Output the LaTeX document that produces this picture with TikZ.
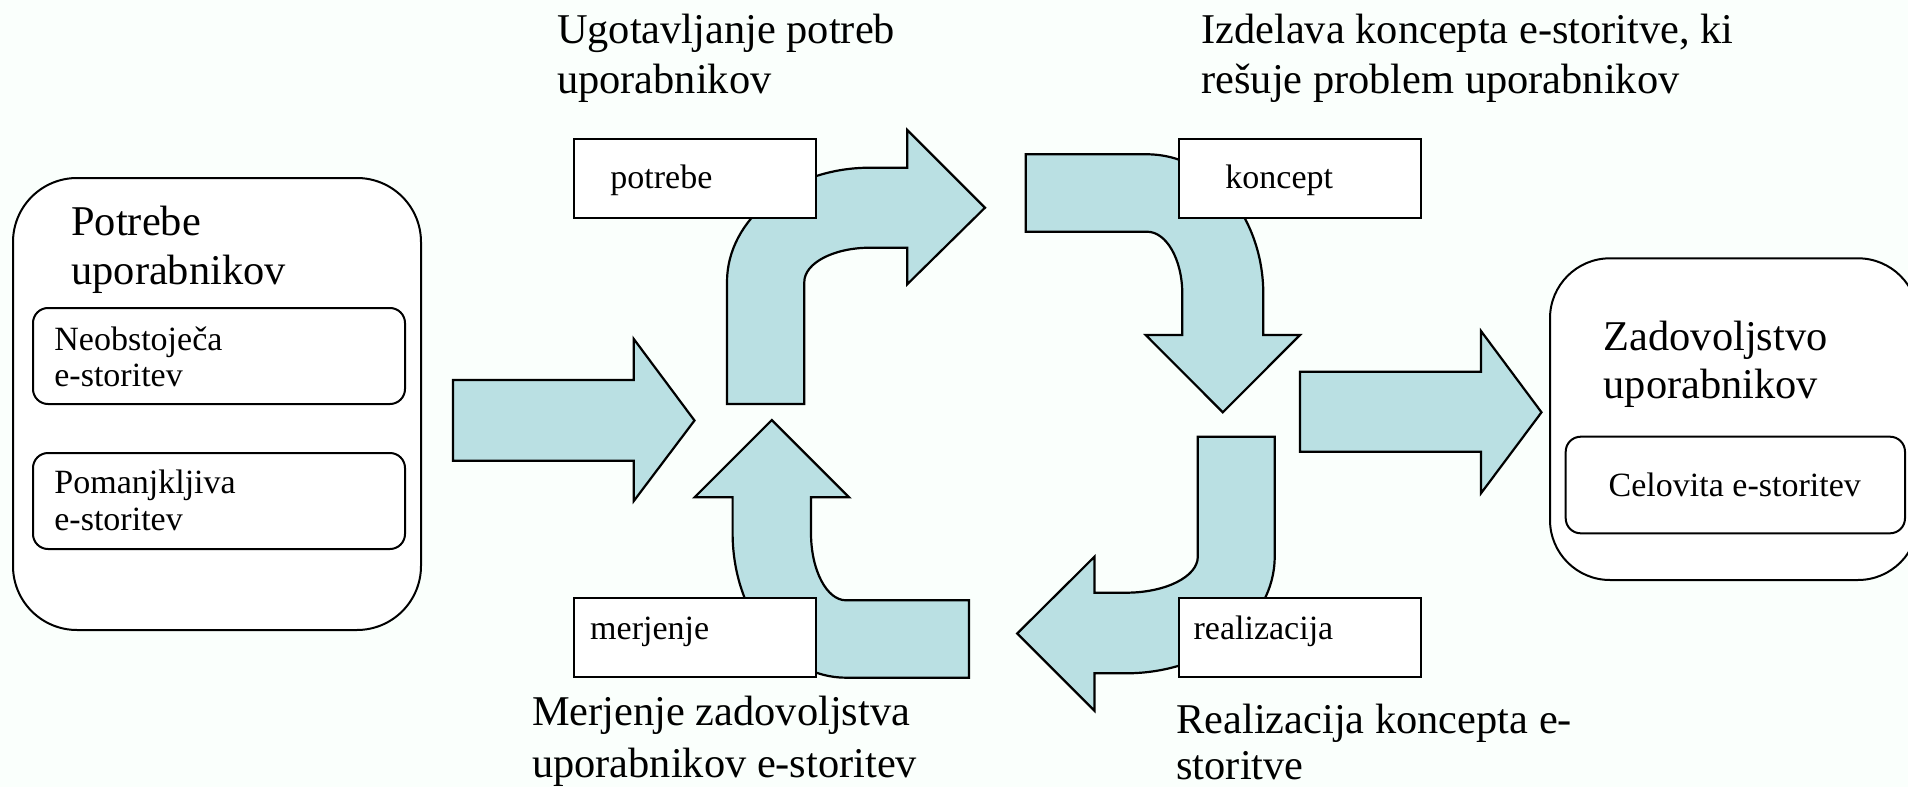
\documentclass[tikz,border=0pt]{standalone}
\usepackage{fontspec}
\setmainfont{Liberation Serif}
\definecolor{bg}{RGB}{250,255,252}
\definecolor{arrowfill}{RGB}{186,224,227}
\begin{document}
\begin{tikzpicture}[x=0.5pt,y=-0.5pt,
  bigtext/.style={font=\fontsize{21.2}{25}\selectfont, anchor=base west, inner sep=0pt},
  smalltext/.style={font=\fontsize{17}{20}\selectfont, anchor=base west, inner sep=0pt},
  container/.style={draw, line width=1pt, fill=white, rounded corners=32pt, anchor=north west, inner sep=0pt, outer sep=0pt},
  subbox/.style={draw, line width=1pt, fill=white, rounded corners=7.5pt, anchor=north west, inner sep=0pt, outer sep=0pt},
  labelbox/.style={draw, line width=1pt, fill=white, anchor=north west, inner sep=0pt, outer sep=0pt, minimum width=121.15pt, minimum height=39.65pt},
  blockarrow/.style={draw, line width=1.1pt, fill=arrowfill, line join=miter}
]
\fill[bg] (0,0) rectangle (1908,787);
\useasboundingbox (0,0) rectangle (1908,787);
\clip (0,0) rectangle (1908,787);

% left container
\node[container, minimum width=204pt, minimum height=226pt] (left) at (13,178) {};
\node[subbox, minimum width=186pt, minimum height=48pt] (neob) at (33,308) {};
\node[subbox, minimum width=186pt, minimum height=48pt] (pom) at (33,453) {};
\node[bigtext] (lt1) at (71,235) {Potrebe};
\node[bigtext] (lt2) at (71,284) {uporabnikov};
\node[smalltext] (n1) at (54,350) {Neobstoječa};
\node[smalltext] (n2) at (54,386) {e-storitev};
\node[smalltext] (p1) at (54,493.5) {Pomanjkljiva};
\node[smalltext] (p2) at (54,530.5) {e-storitev};

% right container (runs past the right edge)
\node[container, rounded corners=30pt, minimum width=184pt, minimum height=160.85pt] (right) at (1550,258.3) {};
\node[subbox, minimum width=169.65pt, minimum height=48.3pt] (celo) at (1565.7,436.7) {};
\node[bigtext] (rt1) at (1603.3,350.7) {Zadovoljstvo};
\node[bigtext] (rt2) at (1603.3,398.3) {uporabnikov};
\node[smalltext] (c1) at (1608.3,496.7) {Celovita e-storitev};

% input arrow
\draw[blockarrow] (453,380) -- (633.8,380) -- (633.8,339) -- (694.5,420.5) -- (633.8,501) -- (633.8,460.7) -- (453,460.7) -- cycle;
% output arrow
\draw[blockarrow] (1300,371.7) -- (1481,371.7) -- (1481,331) -- (1541.5,412.3) -- (1481,493.3) -- (1481,451.7) -- (1300,451.7) -- cycle;

% bent arrow 1 (up, then right)
\draw[blockarrow] (727,404) -- (727,282)
  .. controls (727,218.9) and (791,167.7) .. (870,167.7)
  -- (907.2,167.7) -- (907.2,130) -- (985,207.7) -- (907.2,284.3) -- (907.2,247.7) -- (870,247.7)
  .. controls (833.7,247.7) and (804.3,263.1) .. (804.3,282)
  -- (804.3,404) -- cycle;

% bent arrow 2 (right, then down)
\draw[blockarrow] (1025.7,154.3) -- (1147,154.3)
  .. controls (1211.2,154.3) and (1263.3,216.8) .. (1263.3,294)
  -- (1263.3,335) -- (1300,335) -- (1222.8,412.3) -- (1145.7,335) -- (1182.3,335) -- (1182.3,294)
  .. controls (1182.3,259.6) and (1166.5,231.7) .. (1147,231.7)
  -- (1025.7,231.7) -- cycle;

% bent arrow 3 (down, then left)
\draw[blockarrow] (1197.8,436.7) -- (1274.7,436.7) -- (1274.7,556.7)
  .. controls (1274.7,621.1) and (1208.1,673.3) .. (1126,673.3)
  -- (1094.5,673.3) -- (1094.5,710.7) -- (1017.2,633.5) -- (1094.5,556.7) -- (1094.5,592.7) -- (1126,592.7)
  .. controls (1165.7,592.7) and (1197.8,576.6) .. (1197.8,556.7)
  -- cycle;

% bent arrow 4 (left, then up)
\draw[blockarrow] (969,600.3) -- (969,677.7) -- (846,677.7)
  .. controls (783.4,677.7) and (732.6,612.9) .. (732.6,533)
  -- (732.6,497.3) -- (694.5,497.3) -- (771.8,420) -- (849.1,497.3) -- (811,497.3) -- (811,533)
  .. controls (811,570.2) and (826.7,600.3) .. (846,600.3)
  -- cycle;

% label boxes
\node[labelbox] (potrebe) at (573.5,139) {};
\node[labelbox] (koncept) at (1179,139) {};
\node[labelbox] (merjenje) at (573.5,597.5) {};
\node[labelbox] (realizacija) at (1178.7,597.7) {};
\node[smalltext] (tpotrebe) at (610,188.3) {potrebe};
\node[smalltext] (tkoncept) at (1225,188.3) {koncept};
\node[smalltext] (tmerjenje) at (589.8,639.3) {merjenje};
\node[smalltext] (trealizacija) at (1193.2,639.3) {realizacija};

% headers
\node[bigtext] (h1a) at (556.7,43.3) {Ugotavljanje potreb};
\node[bigtext] (h1b) at (556.7,93.3) {uporabnikov};
\node[bigtext] (h2a) at (1201,43.3) {Izdelava koncepta e-storitve, ki};
\node[bigtext] (h2b) at (1201,93.3) {rešuje problem uporabnikov};
\node[bigtext] (h3a) at (531.7,725) {Merjenje zadovoljstva};
\node[bigtext] (h3b) at (531.7,777.5) {uporabnikov e-storitev};
\node[bigtext] (h4a) at (1176,733.5) {Realizacija koncepta e-};
\node[bigtext] (h4b) at (1176,779.5) {storitve};
\end{tikzpicture}
\end{document}
